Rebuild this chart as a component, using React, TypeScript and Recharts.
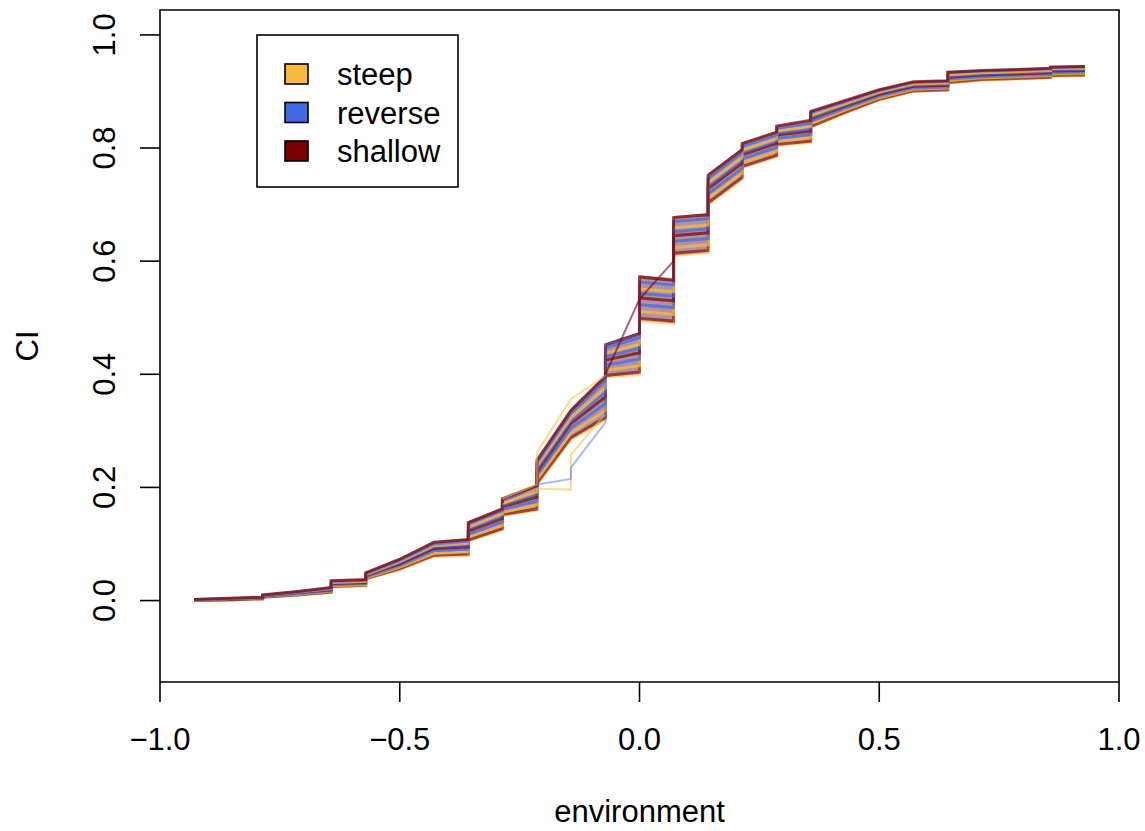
import React from "react";
import {
  ComposedChart,
  Line,
  Area,
  XAxis,
  YAxis,
  ReferenceArea,
  Legend,
} from "recharts";

// x positions (steps appear as repeated x values)
const xs = [
  -0.929, -0.857, -0.786, -0.786, -0.714, -0.643, -0.643, -0.571, -0.571, -0.5,
  -0.429, -0.357, -0.357, -0.286, -0.286, -0.214, -0.214, -0.143, -0.071, -0.071,
  0, 0, 0.071, 0.071, 0.143, 0.143, 0.214, 0.214, 0.286, 0.286,
  0.357, 0.357, 0.429, 0.5, 0.571, 0.643, 0.643, 0.714, 0.786, 0.857,
  0.857, 0.929,
];

const bandLow = [
  0.0, 0.001, 0.003, 0.006, 0.01, 0.015, 0.024, 0.026, 0.038, 0.055,
  0.078, 0.08, 0.105, 0.125, 0.15, 0.16, 0.205, 0.285, 0.32, 0.395,
  0.4, 0.495, 0.49, 0.61, 0.615, 0.7, 0.745, 0.765, 0.785, 0.805,
  0.81, 0.837, 0.862, 0.885, 0.9, 0.902, 0.915, 0.92, 0.922, 0.924,
  0.927, 0.928,
];
const bandHigh = [
  0.002, 0.004, 0.006, 0.01, 0.017, 0.024, 0.036, 0.038, 0.05, 0.075,
  0.105, 0.11, 0.14, 0.165, 0.182, 0.205, 0.25, 0.34, 0.4, 0.455,
  0.475, 0.575, 0.57, 0.68, 0.685, 0.755, 0.8, 0.81, 0.83, 0.84,
  0.85, 0.866, 0.885, 0.905, 0.918, 0.92, 0.935, 0.938, 0.94, 0.942,
  0.945, 0.945,
];

const shallow1 = [
  0.002, 0.004, 0.006, 0.01, 0.016, 0.023, 0.035, 0.037, 0.049, 0.073,
  0.103, 0.108, 0.138, 0.162, 0.18, 0.203, 0.248, 0.336, 0.396, 0.452,
  0.472, 0.572, 0.566, 0.677, 0.682, 0.752, 0.797, 0.808, 0.828, 0.839,
  0.849, 0.865, 0.884, 0.903, 0.917, 0.919, 0.934, 0.937, 0.939, 0.941,
  0.943, 0.944,
];
const reverse1 = [
  0.002, 0.003, 0.005, 0.009, 0.015, 0.022, 0.034, 0.036, 0.048, 0.071,
  0.1, 0.105, 0.135, 0.159, 0.177, 0.199, 0.243, 0.331, 0.389, 0.447,
  0.465, 0.563, 0.558, 0.67, 0.675, 0.746, 0.792, 0.803, 0.823, 0.835,
  0.844, 0.862, 0.882, 0.902, 0.916, 0.918, 0.933, 0.936, 0.938, 0.94,
  0.943, 0.944,
];
const steep1 = [
  0.001, 0.003, 0.005, 0.009, 0.015, 0.021, 0.032, 0.034, 0.046, 0.069,
  0.097, 0.101, 0.13, 0.153, 0.172, 0.192, 0.237, 0.323, 0.376, 0.437,
  0.453, 0.551, 0.546, 0.659, 0.664, 0.738, 0.783, 0.796, 0.816, 0.83,
  0.838, 0.857, 0.878, 0.899, 0.913, 0.915, 0.929, 0.933, 0.935, 0.937,
  0.94, 0.941,
];
const reverse3 = [
  0.001, 0.003, 0.005, 0.008, 0.014, 0.02, 0.031, 0.033, 0.045, 0.067,
  0.095, 0.098, 0.127, 0.149, 0.169, 0.188, 0.232, 0.318, 0.368, 0.431,
  0.446, 0.543, 0.538, 0.652, 0.657, 0.733, 0.778, 0.792, 0.812, 0.826,
  0.834, 0.854, 0.876, 0.897, 0.911, 0.913, 0.927, 0.931, 0.933, 0.935,
  0.938, 0.939,
];
const shallow2 = [
  0.001, 0.002, 0.004, 0.008, 0.014, 0.019, 0.03, 0.032, 0.044, 0.065,
  0.092, 0.095, 0.123, 0.145, 0.166, 0.183, 0.228, 0.313, 0.36, 0.425,
  0.438, 0.535, 0.53, 0.645, 0.65, 0.728, 0.773, 0.788, 0.808, 0.823,
  0.83, 0.852, 0.874, 0.895, 0.909, 0.911, 0.925, 0.929, 0.931, 0.933,
  0.936, 0.937,
];
const reverse2 = [
  0.001, 0.002, 0.004, 0.007, 0.012, 0.018, 0.028, 0.03, 0.042, 0.062,
  0.088, 0.091, 0.117, 0.139, 0.161, 0.176, 0.221, 0.305, 0.348, 0.416,
  0.427, 0.523, 0.518, 0.635, 0.64, 0.719, 0.764, 0.781, 0.801, 0.817,
  0.824, 0.847, 0.87, 0.892, 0.906, 0.908, 0.922, 0.926, 0.928, 0.93,
  0.933, 0.934,
];
const steep2 = [
  0.0, 0.001, 0.003, 0.007, 0.011, 0.017, 0.026, 0.028, 0.04, 0.059,
  0.083, 0.086, 0.112, 0.133, 0.156, 0.169, 0.214, 0.296, 0.336, 0.407,
  0.415, 0.511, 0.506, 0.624, 0.629, 0.711, 0.756, 0.774, 0.794, 0.812,
  0.818, 0.843, 0.867, 0.889, 0.904, 0.906, 0.919, 0.924, 0.926, 0.928,
  0.931, 0.932,
];
const shallow3 = [
  0.0, 0.001, 0.003, 0.006, 0.01, 0.015, 0.025, 0.027, 0.039, 0.056,
  0.08, 0.082, 0.107, 0.127, 0.152, 0.162, 0.207, 0.288, 0.324, 0.398,
  0.404, 0.499, 0.494, 0.614, 0.619, 0.703, 0.748, 0.767, 0.787, 0.806,
  0.812, 0.838, 0.863, 0.886, 0.901, 0.903, 0.916, 0.921, 0.923, 0.925,
  0.928, 0.929,
];
const steep3 = [
  0.0, 0.001, 0.003, 0.006, 0.01, 0.015, 0.024, 0.026, 0.038, 0.055,
  0.078, 0.08, 0.105, 0.125, 0.15, 0.16, 0.205, 0.285, 0.32, 0.395,
  0.4, 0.495, 0.49, 0.61, 0.615, 0.7, 0.745, 0.765, 0.785, 0.805,
  0.81, 0.837, 0.862, 0.885, 0.9, 0.902, 0.915, 0.92, 0.922, 0.924,
  0.927, 0.928,
];

// a few stray runs
const steepOutAX = [-0.286, -0.214, -0.214, -0.143, -0.071];
const steepOutAY = [0.18, 0.205, 0.262, 0.356, 0.398];
const steepOutBX = [-0.286, -0.214, -0.143, -0.143, -0.071];
const steepOutBY = [0.17, 0.198, 0.196, 0.258, 0.33];
const reverseOutX = [-0.214, -0.143, -0.143, -0.071, -0.071, 0];
const reverseOutY = [0.205, 0.215, 0.235, 0.315, 0.452, 0.47];
const shallowOutX = [-0.071, 0, 0.071, 0.071];
const shallowOutY = [0.4, 0.533, 0.6, 0.645];

const xTicks = [-1, -0.5, 0, 0.5, 1];
const yTicks = [0, 0.2, 0.4, 0.6, 0.8, 1];

const legendItems = [
  { name: "steep", color: "#F9B93F" },
  { name: "reverse", color: "#4169E1" },
  { name: "shallow", color: "#7A0000" },
];

const ORANGE = "#F9B93F";
const BLUE = "#4169E1";
const RED = "#7F0000";
const FONT = "'Liberation Sans', Arial, Helvetica, sans-serif";

const lineDefs = [
  { key: "steep3", values: steep3, color: ORANGE, op: 0.6 },
  { key: "shallow3", values: shallow3, color: RED, op: 0.6 },
  { key: "steep2", values: steep2, color: ORANGE, op: 0.75 },
  { key: "reverse2", values: reverse2, color: BLUE, op: 0.7 },
  { key: "shallow2", values: shallow2, color: RED, op: 0.7 },
  { key: "reverse3", values: reverse3, color: BLUE, op: 0.7 },
  { key: "steep1", values: steep1, color: ORANGE, op: 0.75 },
  { key: "reverse1", values: reverse1, color: BLUE, op: 0.7 },
  { key: "shallow1", values: shallow1, color: RED, op: 0.7 },
];

const data = xs.map((x, i) => {
  const row: Record<string, any> = { x, band: [bandLow[i], bandHigh[i]] };
  lineDefs.forEach((d) => {
    row[d.key] = d.values[i];
  });
  return row;
});

const pairs = (xa: number[], ya: number[]) => xa.map((x, i) => ({ x, y: ya[i] }));

const fmt = (v: number) => {
  const s = Math.abs(v).toFixed(1);
  return v < 0 ? "\u2212" + s : s;
};

const XTick = (props: any) => {
  const { x, y, payload } = props;
  return (
    <text x={x} y={y + 48} textAnchor="middle" fontSize={31} fontFamily={FONT} fill="#000">
      {fmt(payload.value)}
    </text>
  );
};

const YTick = (props: any) => {
  const { x, y, payload } = props;
  const tx = x - 25;
  return (
    <text
      x={tx}
      y={y}
      transform={`rotate(-90, ${tx}, ${y})`}
      textAnchor="middle"
      fontSize={31}
      fontFamily={FONT}
      fill="#000"
    >
      {fmt(payload.value)}
    </text>
  );
};

const LegendBox = () => (
  <svg width={204} height={156} style={{ display: "block" }}>
    <rect x={1} y={1} width={201} height={152} fill="#fff" stroke="#000" strokeWidth={1.6} />
    {legendItems.map((it, i) => {
      const cy = 40 + i * 38.5;
      return (
        <g key={it.name}>
          <rect x={29} y={cy - 10} width={23} height={20} fill={it.color} stroke="#000" strokeWidth={1.6} />
          <text x={81} y={cy + 11} fontSize={31} fontFamily={FONT} fill="#000">
            {it.name}
          </text>
        </g>
      );
    })}
  </svg>
);

export default function App() {
  return (
    <div style={{ position: "absolute", left: 0, top: 0, width: 1145, height: 831, background: "#fff" }}>
      <ComposedChart
        width={1145}
        height={831}
        data={data}
        margin={{ top: 10, right: 26, bottom: 0, left: 0 }}
      >
        <XAxis
          dataKey="x"
          type="number"
          domain={[-1, 1]}
          ticks={xTicks}
          allowDataOverflow
          height={149}
          tickSize={20}
          tickMargin={0}
          axisLine={false}
          tickLine={{ stroke: "#000", strokeWidth: 1.6 }}
          tick={<XTick />}
          interval={0}
        />
        <YAxis
          type="number"
          domain={[-0.144, 1.044]}
          ticks={yTicks}
          allowDataOverflow
          width={160}
          tickSize={20}
          tickMargin={0}
          axisLine={false}
          tickLine={{ stroke: "#000", strokeWidth: 1.6 }}
          tick={<YTick />}
          interval={0}
        />
        <Area
          dataKey="band"
          type="linear"
          stroke="none"
          fill="#7A4A66"
          fillOpacity={0.6}
          isAnimationActive={false}
          activeDot={false}
          legendType="none"
        />
        {lineDefs.map((d) => (
          <Line
            key={d.key}
            dataKey={d.key}
            type="linear"
            stroke={d.color}
            strokeWidth={3}
            strokeOpacity={d.op}
            dot={false}
            activeDot={false}
            isAnimationActive={false}
            legendType="none"
          />
        ))}
        <Line data={pairs(steepOutAX, steepOutAY)} dataKey="y" type="linear" stroke={ORANGE} strokeOpacity={0.55} strokeWidth={2} dot={false} isAnimationActive={false} legendType="none" />
        <Line data={pairs(steepOutBX, steepOutBY)} dataKey="y" type="linear" stroke={ORANGE} strokeOpacity={0.55} strokeWidth={2} dot={false} isAnimationActive={false} legendType="none" />
        <Line data={pairs(reverseOutX, reverseOutY)} dataKey="y" type="linear" stroke={BLUE} strokeOpacity={0.45} strokeWidth={2} dot={false} isAnimationActive={false} legendType="none" />
        <Line data={pairs(shallowOutX, shallowOutY)} dataKey="y" type="linear" stroke={RED} strokeOpacity={0.6} strokeWidth={2} dot={false} isAnimationActive={false} legendType="none" />
        <ReferenceArea
          x1={-1}
          x2={1}
          y1={-0.144}
          y2={1.044}
          fill="#fff"
          fillOpacity={0}
          stroke="#000"
          strokeWidth={1.6}
          ifOverflow="visible"
        />
        <Legend
          layout="vertical"
          align="center"
          verticalAlign="middle"
          content={() => <LegendBox />}
          wrapperStyle={{ position: "absolute", left: 256, top: 34, width: 204, height: 156 }}
        />
        <text x={38} y={346} transform="rotate(-90, 38, 346)" textAnchor="middle" fontSize={31} fontFamily={FONT} fill="#000">
          CI
        </text>
        <text x={639.5} y={822} textAnchor="middle" fontSize={31} fontFamily={FONT} fill="#000">
          environment
        </text>
      </ComposedChart>
    </div>
  );
}
